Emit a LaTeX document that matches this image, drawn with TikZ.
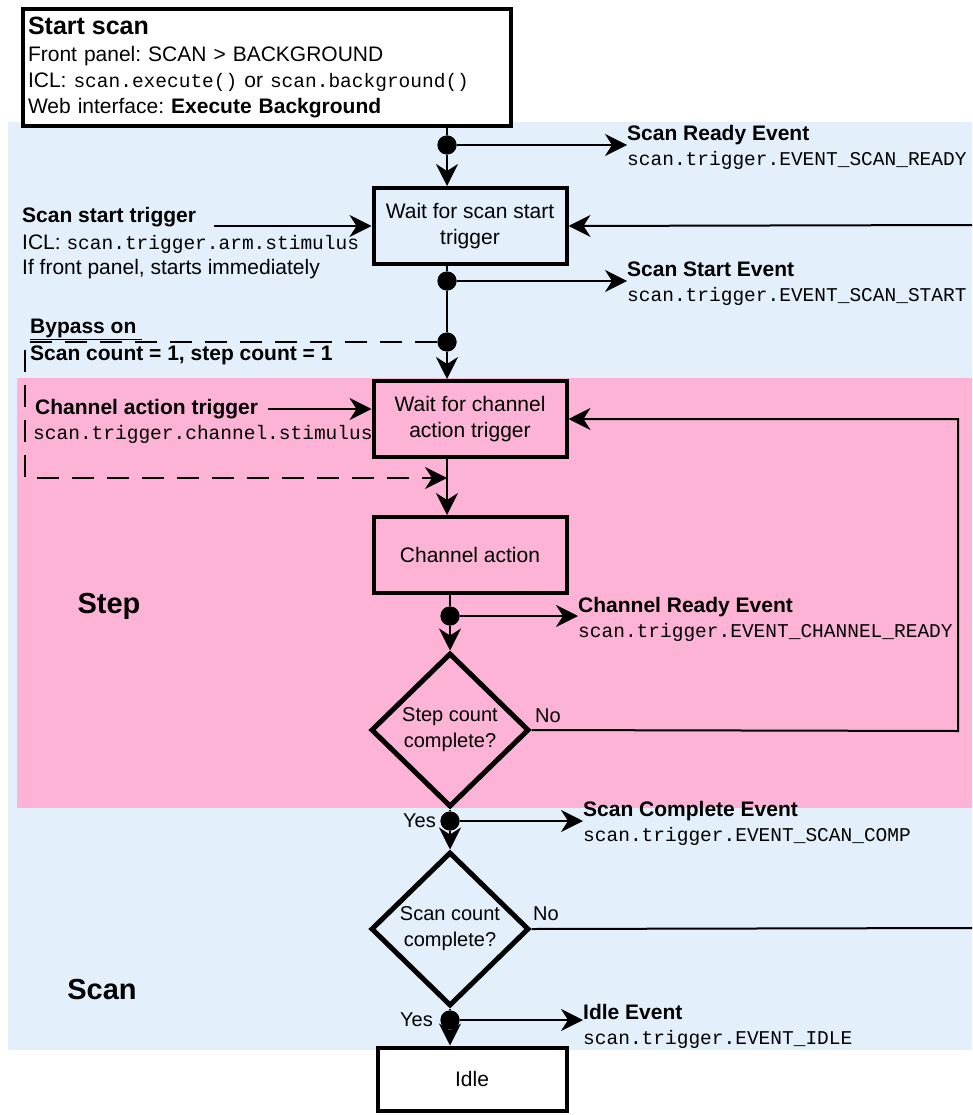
\documentclass[tikz,border=0pt]{standalone}
\usepackage{fontspec}
\setmainfont{Liberation Sans}
\setmonofont{Liberation Mono}
\usetikzlibrary{arrows.meta,shapes.geometric}
\definecolor{scanblue}{HTML}{E3EFFA}
\definecolor{steppink}{HTML}{FDB3D5}
\frenchspacing
\newcommand{\code}[1]{{\fontsize{19.5}{25}\selectfont\ttfamily #1}}
\tikzset{
  box/.style={draw,line width=4pt,minimum width=193pt,minimum height=76pt,align=center,font=\fontsize{21}{26}\selectfont},
  choice/.style={draw,diamond,line width=5pt,minimum width=158pt,minimum height=154pt,inner sep=0pt,align=center,font=\fontsize{20}{26}\selectfont},
  dot/.style={circle,fill,inner sep=0pt,minimum size=19pt},
  arr/.style={-{Stealth[length=22pt,width=22pt,inset=7pt]},line width=2pt},
  link/.style={line width=2pt},
  bypassline/.style={line width=2pt,dash pattern=on 22pt off 13pt},
  evt/.style={anchor=west,align=left,inner sep=0pt,font=\fontsize{21}{25}\selectfont},
  lbl/.style={anchor=west,inner sep=0pt,font=\fontsize{21}{25}\selectfont},
}
\begin{document}
\begin{tikzpicture}[x=1pt,y=-1pt]
  \useasboundingbox (0,0) rectangle (972,1115);
  \fill[white] (0,0) rectangle (972,1115);
  \fill[scanblue] (8,122) rectangle (972,1050);
  \fill[steppink] (17,378) rectangle (972,808);

  \node[font=\fontsize{29}{30}\selectfont\bfseries] (steplbl) at (109,606) {Step};
  \node[font=\fontsize{29}{30}\selectfont\bfseries] (scanlbl) at (102,990) {Scan};

  \node[box,fill=white,minimum width=488pt,minimum height=117pt,text width=478pt,align=left] (startbox) at (267,67.5)
    {{\fontsize{25}{26}\selectfont\bfseries Start scan}\\
     Front panel: SCAN > BACKGROUND\\
     ICL: \code{scan.execute()} or \code{scan.background()}\\
     Web interface: \textbf{Execute Background}};
  \node[box] (waitscan) at (470,226) {Wait for scan start\\trigger};
  \node[box] (waitchan) at (470,419) {Wait for channel\\action trigger};
  \node[box] (chanact) at (470,555) {Channel action};
  \node[choice] (stepq) at (450,730) {Step count\\complete?};
  \node[choice] (scanq) at (450,929) {Scan count\\complete?};
  \node[box,fill=white,minimum width=189pt,minimum height=63pt] (idle) at (472,1079) {Idle};

  \node[dot] (d1) at (447,145) {};
  \node[dot] (d2) at (447,281) {};
  \node[dot] (d3) at (447,342) {};
  \node[dot] (d4) at (450,616) {};
  \node[dot] (d5) at (450,821) {};
  \node[dot] (d6) at (450,1020) {};

  \node[evt] (evready) at (627,147) {\textbf{Scan Ready Event}\\\code{scan.trigger.EVENT\_SCAN\_READY}};
  \node[evt] (evstart) at (627,284) {\textbf{Scan Start Event}\\\code{scan.trigger.EVENT\_SCAN\_START}};
  \node[evt] (evchan) at (578,619) {\textbf{Channel Ready Event}\\\code{scan.trigger.EVENT\_CHANNEL\_READY}};
  \node[evt] (evcomp) at (583,823) {\textbf{Scan Complete Event}\\\code{scan.trigger.EVENT\_SCAN\_COMP}};
  \node[evt] (evidle) at (583,1026) {\textbf{Idle Event}\\\code{scan.trigger.EVENT\_IDLE}};

  \node[lbl,font=\fontsize{21}{25}\selectfont\bfseries] (trigtitle) at (22,217) {Scan start trigger};
  \node[lbl,align=left] (trigtext) at (22,257) {ICL: \code{scan.trigger.arm.stimulus}\\If front panel, starts immediately};
  \node[lbl,font=\fontsize{21}{25}\selectfont\bfseries] (bptitle) at (30,329) {\underline{Bypass on\ }};
  \node[lbl,font=\fontsize{21}{25}\selectfont\bfseries] (bptext) at (30,355) {Scan count = 1, step count = 1};
  \node[lbl,font=\fontsize{21}{25}\selectfont\bfseries] (chtitle) at (35,409) {Channel action trigger};
  \node[lbl] (chcode) at (33,434) {\code{scan.trigger.channel.stimulus}};

  \node[lbl,anchor=east,font=\fontsize{20}{25}\selectfont] (yes1) at (436,821) {Yes};
  \node[lbl,anchor=east,font=\fontsize{20}{25}\selectfont] (yes2) at (433,1020) {Yes};
  \node[lbl,font=\fontsize{20}{25}\selectfont] (no1) at (535,716) {No};
  \node[lbl,font=\fontsize{20}{25}\selectfont] (no2) at (533,914) {No};

  \coordinate (bpa) at (25,342);
  \coordinate (bpb) at (25,478);
  \coordinate (bpc) at (447,478);
  \coordinate (stepright) at (958,731);
  \coordinate (scanout) at (972,928);
  \coordinate (scanin) at (972,225);

  \draw[link] (startbox.south -| d1) -- (d1);
  \draw[arr] (d1) -- (d1 |- waitscan.north);
  \draw[link] (d2 |- waitscan.south) -- (d2) -- (d3);
  \draw[arr] (d3) -- (d3 |- waitchan.north);
  \draw[arr] (d3 |- waitchan.south) -- (d3 |- chanact.north);
  \draw[link] (d4 |- chanact.south) -- (d4);
  \draw[arr] (d4) -- (stepq.north);
  \draw[link] (stepq.south) -- (d5);
  \draw[arr] (d5) -- (scanq.north);
  \draw[link] (scanq.south) -- (d6);
  \draw[arr] (d6) -- (d6 |- idle.north);

  \draw[arr] (d1) -- (d1 -| evready.west);
  \draw[arr] (d2) -- (d2 -| evstart.west);
  \draw[arr] (d4) -- (d4 -| evchan.west);
  \draw[arr] (d5) -- (d5 -| evcomp.west);
  \draw[arr] (d6) -- (d6 -| evidle.west);

  \draw[arr] ([xshift=18pt]trigtitle.east |- waitscan.west) -- (waitscan.west);
  \draw[arr] ([xshift=10pt]chtitle.east) -- (waitchan.west |- chtitle.east);
  \draw[bypassline,arr] (d3) -- (bpa) -- (bpb) -- (bpc);

  \draw[arr] (stepq.east) -- (stepright) |- (waitchan.east);
  \draw[link] (scanq.east) -- (scanout);
  \draw[arr] (scanin) -- (waitscan.east);

  \foreach \d in {d1,d2,d3,d4,d5,d6}
    \fill (\d) circle (9.5);
\end{tikzpicture}
\end{document}
